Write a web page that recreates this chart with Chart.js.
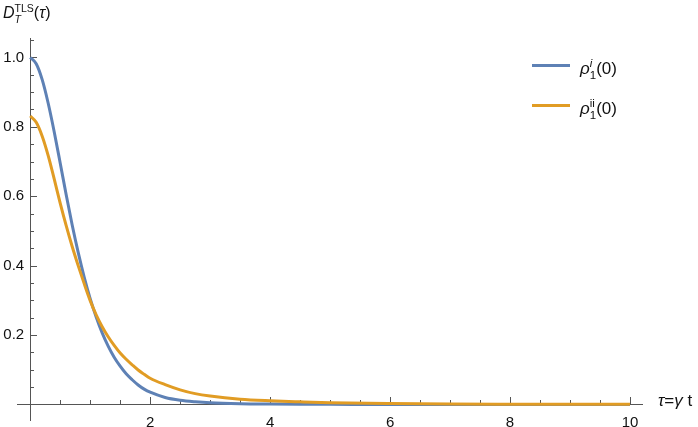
<!DOCTYPE html>
<html>
<head>
<meta charset="utf-8">
<script src="https://cdn.jsdelivr.net/npm/chart.js@4.4.1/dist/chart.umd.min.js"></script>
<style>
body { margin:0; background:#fff; }
#wrap { position:relative; width:698px; height:427px; font-family:"Liberation Sans", Arial, sans-serif; color:#111; }
canvas { position:absolute; left:0; top:0; }
.lab { position:absolute; font-size:16px; white-space:nowrap; line-height:1; }
.ss { display:inline-block; vertical-align:-5px; font-size:10.5px; line-height:11px; text-align:left; }
.ss span { display:block; }
.leg { font-size:17px; }
.leg .ss { font-size:11.5px; line-height:12px; }
.key { position:absolute; width:38px; height:3px; }
</style>
</head>
<body>
<div id="wrap">
  <canvas id="chart" width="698" height="427"></canvas>
  <div class="lab" style="left:3px;top:3px"><i>D</i><span class="ss"><span>TLS</span><span><i>T</i></span></span>(<i>τ</i>)</div>
  <div class="lab" style="left:658px;top:392px;font-size:17px"><i>τ</i>=<i>γ</i> t</div>
  <div id="legend"></div>
</div>
<script>
// tau = gamma t
const tau = [0, 0.1, 0.2, 0.3, 0.4, 0.5, 0.6, 0.7, 0.8, 0.9, 1.0, 1.1, 1.2, 1.3, 1.4, 1.5, 1.6, 1.7, 1.8, 1.9, 2.0,
  2.25, 2.5, 2.75, 3.0, 3.5, 4, 4.5, 5, 6, 7, 8, 9, 10];
const rhoI = [1.0, 0.982, 0.936, 0.868, 0.786, 0.696, 0.604, 0.517, 0.438, 0.367, 0.305, 0.252, 0.206, 0.168, 0.136, 0.110, 0.088, 0.071, 0.056, 0.044, 0.035,
  0.02, 0.012, 0.0075, 0.0045, 0.0018, 0.0008, 0.0003, 0.0001, 0, 0, 0, 0, 0];
const rhoII = [0.831, 0.813, 0.773, 0.717, 0.65, 0.58, 0.515, 0.455, 0.400, 0.348, 0.299, 0.258, 0.224, 0.195, 0.170, 0.148, 0.13, 0.114, 0.099, 0.087, 0.0755,
  0.057, 0.042, 0.031, 0.024, 0.015, 0.0105, 0.0075, 0.005, 0.0025, 0.0012, 0.0006, 0.0003, 0.0001];
const seriesSup = ['<i>i</i>', 'ii'];
const seriesColors = ['#5E81B5', '#E19C24'];
const xTickStep = 0.5, xLabelStep = 2;
const yTickStep = 0.05, yLabelStep = 0.2;

const axisColor = '#555';
const textColor = '#111';
const isMult = (v, s) => Math.abs(v / s - Math.round(v / s)) < 1e-6;

// legend (html, because of the sub/superscripts)
const legend = document.getElementById('legend');
seriesSup.forEach((sup, i) => {
  const top = 64 + i * 40;
  legend.innerHTML += `<div class="key" style="left:532px;top:${top}px;background:${seriesColors[i]}"></div>` +
    `<div class="lab leg" style="left:580px;top:${top - 7}px"><i>ρ</i><span class="ss"><span>${sup}</span><span>1</span></span>(0)</div>`;
});

// inward tick marks, long on labelled values
const tickMarks = {
  id: 'tickMarks',
  beforeDatasetsDraw(chart) {
    const {ctx, scales: {x, y}} = chart;
    const x0 = Math.round(x.getPixelForValue(0)), y0 = Math.round(y.getPixelForValue(0));
    ctx.save();
    ctx.strokeStyle = axisColor;
    ctx.lineWidth = 1;
    ctx.beginPath();
    x.ticks.forEach(t => {
      if (t.value <= 0) return;
      const px = Math.round(x.getPixelForValue(t.value)) + 0.5;
      ctx.moveTo(px, y0);
      ctx.lineTo(px, y0 - (isMult(t.value, xLabelStep) ? 7 : 4));
    });
    y.ticks.forEach(t => {
      if (t.value <= 0) return;
      const py = Math.round(y.getPixelForValue(t.value)) + 0.5;
      ctx.moveTo(x0, py);
      ctx.lineTo(x0 + (isMult(t.value, yLabelStep) ? 7 : 4), py);
    });
    ctx.stroke();
    ctx.restore();
  }
};

const noPad = s => { s.paddingLeft = s.paddingRight = s.paddingTop = s.paddingBottom = 0; };
const tickFont = { family: 'Liberation Sans', size: 15 };
const yMin = -0.045, yMax = 1.056;

new Chart(document.getElementById('chart'), {
  type: 'line',
  data: {
    datasets: [rhoI, rhoII].map((vals, i) => ({
      label: 'rho' + (i + 1),
      data: tau.map((t, k) => ({x: t, y: vals[k]})),
      borderColor: seriesColors[i],
      borderWidth: 3,
      pointRadius: 0,
      cubicInterpolationMode: 'monotone',
      order: 1 - i
    }))
  },
  options: {
    responsive: false,
    animation: false,
    layout: { padding: { left: 17, right: 56, top: 38, bottom: 7 } },
    plugins: { legend: { display: false }, tooltip: { enabled: false } },
    scales: {
      x: {
        type: 'linear', min: -0.22, max: 10.2, position: { y: 0 },
        afterFit: s => { s.height = 0; noPad(s); },
        grid: { drawOnChartArea: false, drawTicks: false },
        border: { color: axisColor, width: 1 },
        ticks: {
          stepSize: xTickStep, includeBounds: false, autoSkip: false, maxRotation: 0,
          padding: 9, color: textColor, font: tickFont,
          callback: v => (v > 0 && isMult(v, xLabelStep)) ? String(Math.round(v)) : ''
        }
      },
      y: {
        type: 'linear', min: yMin, max: yMax, position: { x: 0 },
        afterFit: s => { s.width = 0; noPad(s); },
        grid: { drawOnChartArea: false, drawTicks: false },
        border: { color: axisColor, width: 1 },
        ticks: { stepSize: yTickStep, includeBounds: false, autoSkip: false, display: false }
      },
      // label-only copy of y, nudged left of the axis line
      yLab: {
        type: 'linear', min: yMin, max: yMax, position: { x: -0.1 },
        afterFit: s => { s.width = 0; noPad(s); },
        grid: { display: false, drawTicks: false },
        border: { display: false },
        ticks: {
          stepSize: yLabelStep, includeBounds: false, autoSkip: false,
          color: textColor, font: tickFont,
          callback: v => v > 0 ? v.toFixed(1) : ''
        }
      }
    }
  },
  plugins: [tickMarks]
});
</script>
</body>
</html>
